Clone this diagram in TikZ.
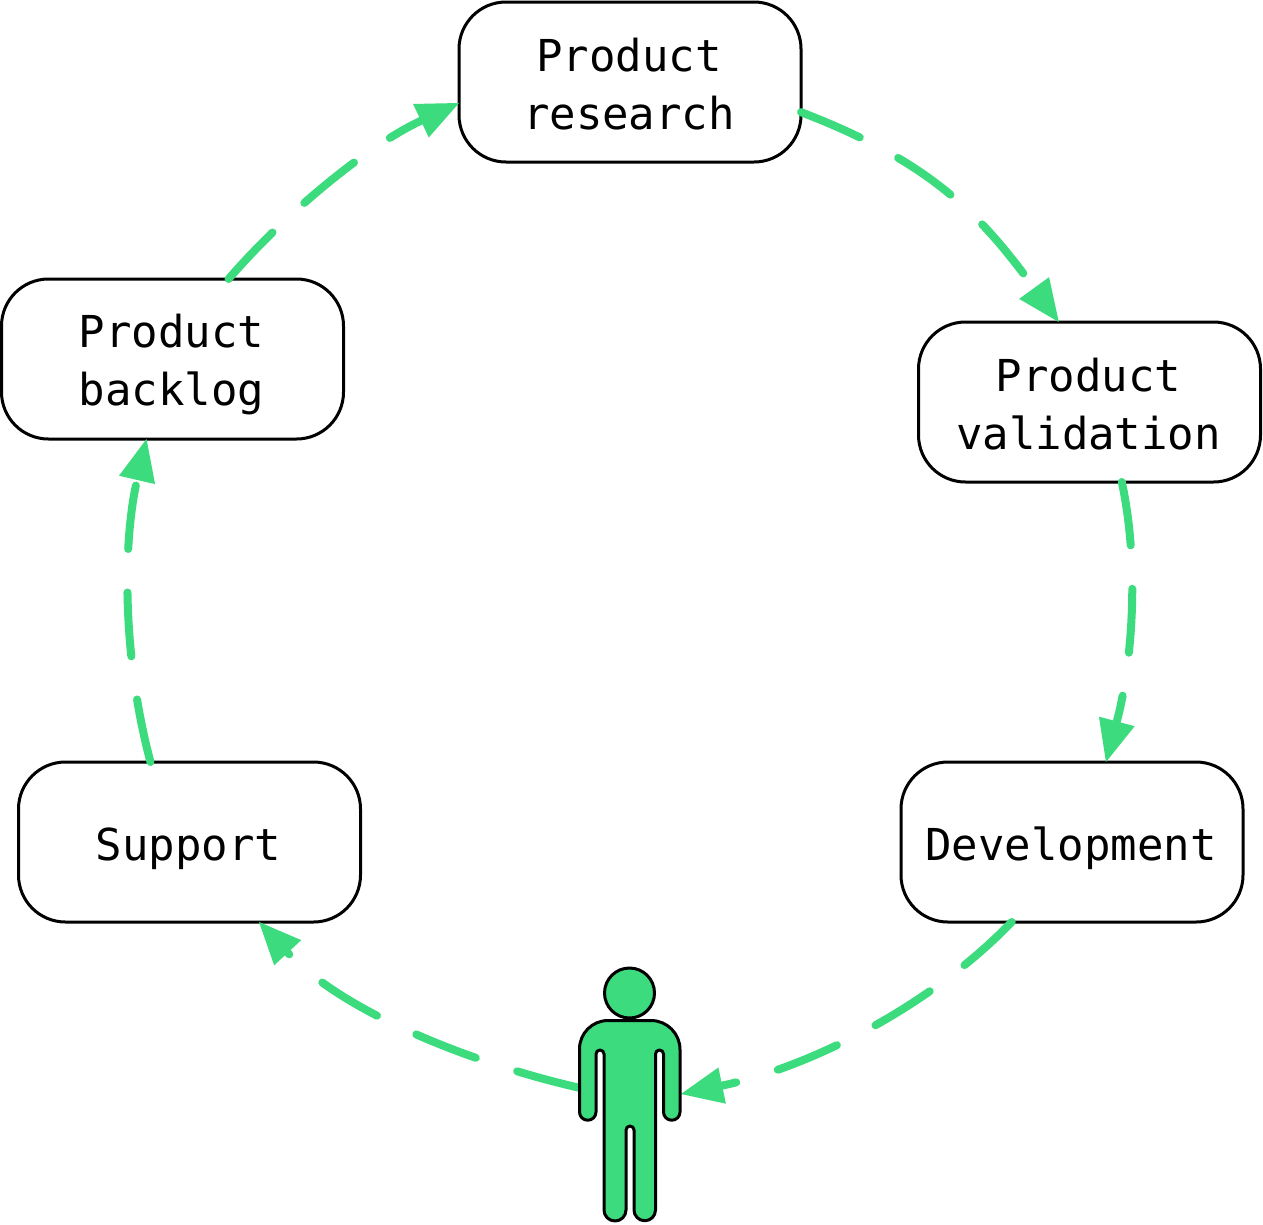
\documentclass[tikz,border=0pt]{standalone}
\usepackage{fontspec}
\setmainfont{DejaVu Sans Mono}
\usetikzlibrary{arrows.meta}
\definecolor{leaf}{HTML}{3BDB7E}
\newcommand\stagetext[2]{\kern-2pt\raisebox{#1}[0pt][0pt]{\begin{tabular}[t]{@{}c@{}}#2\end{tabular}}}
\tikzset{
 x=1pt,y=1pt,
 stagebox/.style={draw=black,line width=3pt,rounded corners=47pt,minimum width=342pt,minimum height=160pt,inner sep=0pt,outer sep=0pt,align=center,font=\fontsize{44pt}{58pt}\selectfont,text=black},
 flow/.style={draw=leaf,line width=8pt,line cap=round,dash pattern=on 64pt off 43.5pt,looseness=.85,-{Triangle[length=42pt,width=37pt,line width=0pt]}},
 figure/.style={draw=black,line width=3pt,fill=leaf,line join=round},
 figurebox/.style={minimum width=102pt,minimum height=252pt,inner sep=0pt,outer sep=0pt}
}
\begin{document}
\begin{tikzpicture}
\useasboundingbox (0,0) rectangle (1263,-1224);
\node[stagebox] (research) at (630,-82) {\stagetext{11pt}{Product\\research}};
\node[stagebox] (validation) at (1089.5,-402) {\stagetext{11pt}{Product\\validation}};
\node[stagebox] (development) at (1072,-842) {\stagetext{-18pt}{Development}};
\node[stagebox] (support) at (189.5,-842) {\stagetext{-18pt}{Support}};
\node[stagebox] (backlog) at (172.5,-359) {\stagetext{12pt}{Product\\backlog}};
\node[figurebox] (person) at (630,-1094) {};
\draw[flow] (research.-10.3) to[out=-21,in=126,looseness=1.05] (validation.111.4);
\draw[flow] (validation.-68.3) to[out=-78,in=75] (development.67.5);
\draw[flow] (development.-127.7) to[out=-134,in=11.6] (person.east);
\draw[flow] (person.173.3) to[out=167,in=-47] (support.-49.8);
\draw[flow] (support.116.3) to[out=105,in=-103] (backlog.-108.5);
\draw[flow] (backlog.55.3) to[out=49,in=205] (research.187.7);
\draw[figure] (608,-1020.5) -- (651,-1020.5) arc[start angle=90,end angle=0,radius=29pt]
 -- (680,-1112) arc[start angle=0,end angle=-180,radius=8.25pt]
 -- (663.5,-1054) arc[start angle=0,end angle=180,radius=4pt]
 -- (655.5,-1210) arc[start angle=0,end angle=-180,radius=10.75pt]
 -- (634,-1130) arc[start angle=0,end angle=180,radius=4pt]
 -- (626,-1210) arc[start angle=0,end angle=-180,radius=11pt]
 -- (604,-1054) arc[start angle=0,end angle=180,radius=4pt]
 -- (596,-1112) arc[start angle=0,end angle=-180,radius=8.25pt]
 -- (579.5,-1049) arc[start angle=180,end angle=90,radius=28.5pt] -- cycle;
\draw[figure] (629.5,-993) circle[radius=25pt];
\end{tikzpicture}
\end{document}
